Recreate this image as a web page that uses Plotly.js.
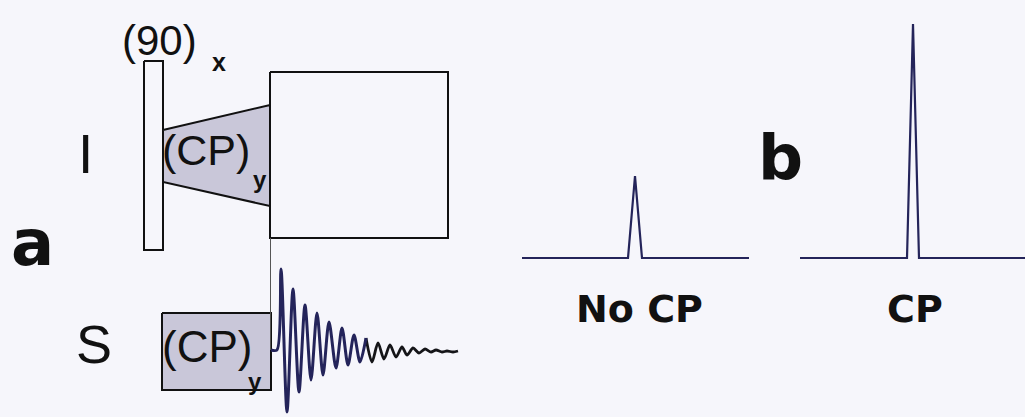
<!DOCTYPE html>
<html>
<head>
<meta charset="utf-8">
<script src="https://cdn.plot.ly/plotly-3.0.1.min.js"></script>
<style>
  html, body { margin: 0; padding: 0; background: #f6f6fb; }
  #chart { width: 1025px; height: 417px; }
</style>
</head>
<body>
<div id="chart"></div>
<script>
// ---- Pulse-sequence geometry (diagram units) ----
const pulse90X = [144, 163, 163, 144, 144];
const pulse90Y = [61, 61, 250, 250, 61];

const rampIX = [163, 270, 270, 163, 163];
const rampIY = [130, 105, 206, 182, 130];

const acqBoxX = [270, 448, 448, 270, 270];
const acqBoxY = [72, 72, 238, 238, 72];

const cpSX = [162, 271, 271, 162, 162];
const cpSY = [313, 313, 390, 390, 313];

const linkX = [270.5, 270.5];
const linkY = [238, 350];

// FID: start and read-off extrema (peaks / troughs)
const fidX = [271, 277, 281, 287, 293, 299, 305, 311, 317, 323, 329, 336, 342, 348, 354, 360,
              366, 372, 378, 384, 390, 396, 402, 407, 413, 419, 425, 431, 436, 442, 447, 453, 458];
const fidY = [350, 350, 269, 412, 289, 392, 305, 380, 313, 375, 322, 368, 328, 365, 335, 362,
              338, 362, 343, 359, 345, 357, 347, 355, 348, 353, 349, 352, 350, 352, 351, 352, 351];

// ---- Spectra ----
const noCpX = [522, 628, 635, 642, 749];
const noCpY = [258, 258, 176, 258, 258];
const cpX = [800, 907, 913, 919, 1025];
const cpY = [258, 258, 24, 258, 258];

// ---- Labels ----
const labelTexts = ['(90)', 'x', 'I', '(CP)', 'y', 'a', 'S', '(CP)', 'y', 'No CP', 'b', 'CP'];
const boldLabel = [false, true, false, false, true, true, false, false, true, true, true, true];

const BG = '#f6f6fb';
const FILL = '#c9c7d9';
const INK = '#111111';
const NAVY = '#24245a';

function poly(x, y, fill, fc, lw, color) {
  return {x: x, y: y, type: 'scatter', mode: 'lines', fill: fill ? 'toself' : 'none',
    fillcolor: fc, line: {color: color || INK, width: lw}, hoverinfo: 'skip', showlegend: false};
}

const split = 16;
const traces = [
  poly(pulse90X, pulse90Y, true, BG, 2),
  poly(rampIX, rampIY, true, FILL, 2),
  poly(acqBoxX, acqBoxY, true, BG, 2),
  poly(cpSX, cpSY, true, FILL, 2),
  poly(linkX, linkY, false, null, 1, '#555555'),
  {x: fidX.slice(split), y: fidY.slice(split), type: 'scatter', mode: 'lines',
   line: {color: '#151518', width: 2.8, shape: 'spline', smoothing: 0.8}, hoverinfo: 'skip', showlegend: false},
  {x: fidX.slice(0, split + 1), y: fidY.slice(0, split + 1), type: 'scatter', mode: 'lines',
   line: {color: NAVY, width: 3, shape: 'spline', smoothing: 0.8}, hoverinfo: 'skip', showlegend: false},
  poly(noCpX, noCpY, false, null, 2.2, NAVY),
  poly(cpX, cpY, false, null, 2.2, NAVY)
];

const SANS = 'Liberation Sans, Arial, sans-serif';
const HEAVY = 'DejaVu Sans, sans-serif';
function ann(i, x, y, size, fam) {
  const t = boldLabel[i] ? '<b>' + labelTexts[i] + '</b>' : labelTexts[i];
  return {x: x, y: y, xref: 'x', yref: 'y', text: t, showarrow: false,
    xanchor: 'center', yanchor: 'middle',
    font: {family: fam, size: size, color: INK}};
}

const annotations = [
  ann(0, 159, 40, 42, SANS),
  ann(1, 219, 62, 25, SANS),
  ann(2, 85, 154, 55, SANS),
  ann(3, 206, 150, 43, SANS),
  ann(4, 260, 179, 24, SANS),
  ann(5, 32, 243, 64, HEAVY),
  ann(6, 94, 344, 54, SANS),
  ann(7, 207, 346, 44, SANS),
  ann(8, 255, 381, 24, SANS),
  ann(9, 639, 309, 38, HEAVY),
  ann(10, 780, 157, 63, HEAVY),
  ann(11, 915, 309, 38, HEAVY)
];

const layout = {
  width: 1025, height: 417,
  margin: {l: 0, r: 0, t: 0, b: 0},
  paper_bgcolor: BG, plot_bgcolor: BG,
  xaxis: {range: [0, 1025], visible: false, fixedrange: true},
  yaxis: {range: [417, 0], visible: false, fixedrange: true},
  annotations: annotations,
  showlegend: false
};

Plotly.newPlot('chart', traces, layout, {staticPlot: true});
</script>
</body>
</html>
